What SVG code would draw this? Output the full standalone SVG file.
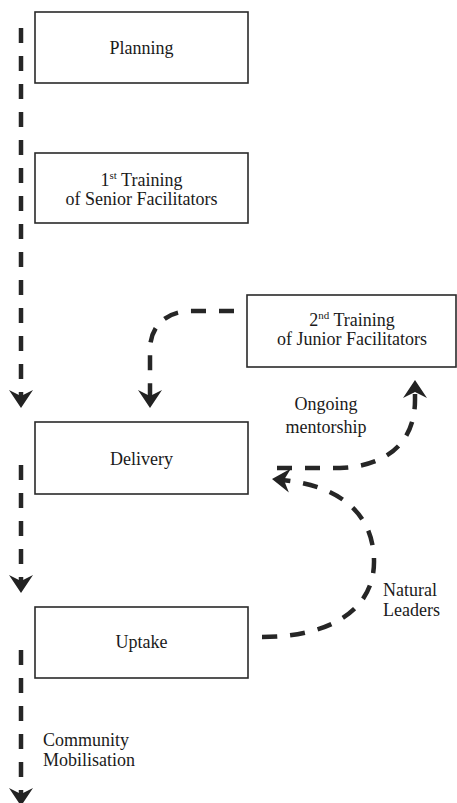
<svg xmlns="http://www.w3.org/2000/svg" width="457" height="803" viewBox="0 0 457 803">
  <style>
    .box { fill: #ffffff; stroke: #2a2a2a; stroke-width: 1.6; }
    .lbl { font-size: 18px; fill: #1a1a1a; }
    .mid { text-anchor: middle; }
    .sup { font-size: 11px; }
    .conn { fill: none; stroke: #262626; stroke-width: 4.5; stroke-dasharray: 15 13; }
    .head { fill: #222; }
  </style>
  <defs>
    <path id="head" class="head" d="M0,0 L-12,-18 L0,-12 L12,-18 Z"/>
  </defs>
  <rect width="457" height="803" fill="#ffffff"/>

  <g id="connectors">
    <path class="conn" d="M21,28 L21,398"/>
    <use href="#head" transform="translate(21,408)"/>
    <path class="conn" d="M21,465 L21,583"/>
    <use href="#head" transform="translate(21,593)"/>
    <path class="conn" d="M21,650 L21,796"/>
    <use href="#head" transform="translate(21,806)"/>
    <path class="conn" d="M234,311 L192,311 C166,311 150,326 150,350 L150,398"/>
    <use href="#head" transform="translate(150,408)"/>
    <path class="conn" d="M277,468 L340,468 C390,466 415,440 415,400 L415,390"/>
    <use href="#head" transform="translate(415,380) rotate(180)"/>
    <path class="conn" d="M262,637 C330,637 375,610 374,560 C373,510 335,485 282,480"/>
    <use href="#head" transform="translate(272,479) rotate(95)"/>
  </g>

  <g font-family="Liberation Serif, Times New Roman, serif">
    <g id="planning">
      <rect class="box" x="35" y="12" width="213" height="71"/>
      <text class="lbl mid" x="141.5" y="54">Planning</text>
    </g>

    <g id="training1">
      <rect class="box" x="35" y="153" width="213" height="70"/>
      <text class="lbl mid" x="141.5" y="186">1<tspan class="sup" dy="-7">st</tspan><tspan dy="7"> Training</tspan></text>
      <text class="lbl mid" x="141.5" y="205">of Senior Facilitators</text>
    </g>

    <g id="training2">
      <rect class="box" x="247" y="295" width="209" height="72"/>
      <text class="lbl mid" x="352" y="326">2<tspan class="sup" dy="-7">nd</tspan><tspan dy="7"> Training</tspan></text>
      <text class="lbl mid" x="352" y="345">of Junior Facilitators</text>
    </g>

    <g id="delivery">
      <rect class="box" x="35" y="422" width="213" height="72"/>
      <text class="lbl mid" x="141.5" y="465">Delivery</text>
    </g>

    <g id="uptake">
      <rect class="box" x="35" y="607" width="213" height="71"/>
      <text class="lbl mid" x="141.5" y="648">Uptake</text>
    </g>

    <g id="labels">
      <text class="lbl mid" x="326" y="410">Ongoing</text>
      <text class="lbl mid" x="326" y="433">mentorship</text>
      <text class="lbl" x="383" y="596">Natural</text>
      <text class="lbl" x="383" y="616">Leaders</text>
      <text class="lbl" x="43" y="746">Community</text>
      <text class="lbl" x="43" y="766">Mobilisation</text>
    </g>
  </g>
</svg>
